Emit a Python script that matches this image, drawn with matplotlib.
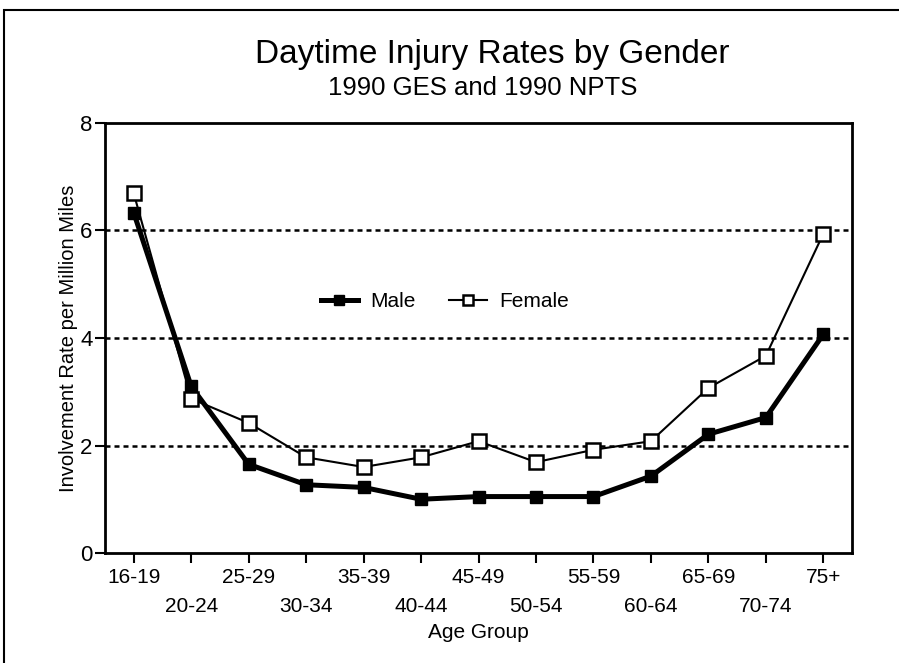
import matplotlib.pyplot as plt
from matplotlib.patches import Rectangle

# Data
age_groups = ["16-19", "20-24", "25-29", "30-34", "35-39", "40-44", "45-49",
              "50-54", "55-59", "60-64", "65-69", "70-74", "75+"]
male = [6.33, 3.10, 1.65, 1.27, 1.22, 1.00, 1.05, 1.05, 1.05, 1.43, 2.21, 2.52, 4.07]
female = [6.69, 2.87, 2.42, 1.78, 1.60, 1.78, 2.08, 1.69, 1.92, 2.08, 3.07, 3.67, 5.94]
y_ticks = [0, 2, 4, 6, 8]

plt.rcParams['font.family'] = ['Liberation Sans', 'DejaVu Sans']

fig = plt.figure(figsize=(8.99, 6.63), dpi=100)
ax = fig.add_axes([0.1168, 0.1659, 0.831, 0.6486])

x = list(range(len(age_groups)))
ax.plot(x, male, color='black', lw=3.6, marker='s', ms=9, mfc='black', mec='black',
        label='Male', zorder=3)
ax.plot(x, female, color='black', lw=1.5, marker='s', ms=9.5, mfc='white', mec='black',
        mew=1.8, label='Female', zorder=4)

# dotted reference lines
for yv in y_ticks[1:-1]:
    ax.axhline(yv, color='black', lw=1.8, ls=(0, (2, 1.6)), zorder=1)

ax.set_xlim(-0.5, 12.5)
ax.set_ylim(0, 8)
ax.set_yticks(y_ticks)
ax.set_yticklabels([str(v) for v in y_ticks], fontsize=16)
ax.set_xticks(x)
labels = [g if i % 2 == 0 else "\n" + g for i, g in enumerate(age_groups)]
ax.set_xticklabels(labels, fontsize=15, linespacing=1.7)
ax.tick_params(axis='both', direction='out', length=7, width=1.5, colors='black')
ax.tick_params(axis='y', pad=2)
for s in ax.spines.values():
    s.set_linewidth(2)

ax.set_xlabel("Age Group", fontsize=15)
ax.xaxis.set_label_coords(0.5, -0.163)
ax.set_ylabel("Involvement Rate per Million Miles", fontsize=14.5)
ax.yaxis.set_label_coords(-0.036, 0.5)

leg = ax.legend(loc='center', bbox_to_anchor=(0.455, 0.585), ncol=2, frameon=False,
                fontsize=15, handlelength=1.8, columnspacing=1.6, handletextpad=0.6,
                markerscale=0.8)

fig.text(0.547, 1 - 63 / 663, "Daytime Injury Rates by Gender", ha='center', va='baseline',
         fontsize=24)
fig.text(0.537, 1 - 95 / 663, "1990 GES and 1990 NPTS", ha='center', va='baseline',
         fontsize=18.5)

# outer frame
fig.patches.append(Rectangle((4 / 899, -0.01), 1.0, 1 - 10 / 663 + 0.01,
                             transform=fig.transFigure, fill=False, lw=1.5, ec='black'))

fig.savefig("out.png", dpi=100)
